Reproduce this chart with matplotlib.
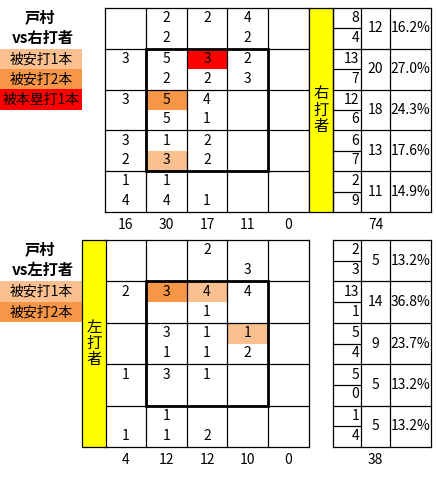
import matplotlib
matplotlib.use("Agg")
import matplotlib.pyplot as plt
from matplotlib.patches import Rectangle

plt.rcParams['font.family'] = ['Noto Sans CJK JP', 'DejaVu Sans']

# ---------------------------------------------------------------
# data : 5x5 grid, each cell has an upper and a lower count
pitcher = "戸村"

r_upper = [[None, 2, 2, 4, None],
           [3, 5, 3, 2, None],
           [3, 5, 4, None, None],
           [3, 1, 2, None, None],
           [1, 1, None, None, None]]
r_lower = [[None, 2, None, 2, None],
           [None, 2, 2, 3, None],
           [None, 5, 1, None, None],
           [2, 3, 2, None, None],
           [4, 4, 1, None, None]]
r_marks = [(1, 2, 0, 3), (2, 1, 0, 2), (3, 1, 1, 1)]   # row, col, half, level
r_side_up = [8, 13, 12, 6, 2]
r_side_low = [4, 7, 6, 7, 9]
r_row_tot = [12, 20, 18, 13, 11]
r_row_pct = ["16.2%", "27.0%", "24.3%", "17.6%", "14.9%"]
r_col_tot = [16, 30, 17, 11, 0]
r_total = 74

l_upper = [[None, None, 2, None, None],
           [2, 3, 4, 4, None],
           [None, 3, 1, 1, None],
           [1, 3, 1, None, None],
           [None, 1, None, None, None]]
l_lower = [[None, None, None, 3, None],
           [None, None, 1, None, None],
           [None, 1, 1, 2, None],
           [None, None, None, None, None],
           [1, 1, 2, None, None]]
l_marks = [(1, 1, 0, 2), (1, 2, 0, 1), (2, 3, 0, 1)]
l_side_up = [2, 13, 5, 5, 1]
l_side_low = [3, 1, 4, 0, 4]
l_row_tot = [5, 14, 9, 5, 5]
l_row_pct = ["13.2%", "36.8%", "23.7%", "13.2%", "13.2%"]
l_col_tot = [4, 12, 12, 10, 0]
l_total = 38

legend_r = ["被安打1本", "被安打2本", "被本塁打1本"]
legend_l = ["被安打1本", "被安打2本"]
colors = {1: "#FAC090", 2: "#F79646", 3: "#FF0000"}

# ---------------------------------------------------------------
fig = plt.figure(figsize=(4.36, 4.78), dpi=100)
ax = fig.add_axes([0, 0, 1, 1])
ax.set_xlim(0, 436)
ax.set_ylim(478, 0)
ax.axis('off')

x0 = 105
cw = 40.8
FS = 10


def panel(y0, rh, upper, lower, marks, side_up, side_low, row_tot, row_pct,
          col_tot, total, vs, legend, bar_x, bar_label, table_left_line):
    # highlighted half cells
    for r, c, h, lev in marks:
        ax.add_patch(Rectangle((x0 + c * cw, y0 + r * rh + h * rh / 2), cw, rh / 2,
                               facecolor=colors[lev], edgecolor='none', zorder=1))
    # grid
    for i in range(6):
        ax.plot([x0 + i * cw, x0 + i * cw], [y0, y0 + 5 * rh], color='black', lw=0.9, zorder=2)
        ax.plot([x0, x0 + 5 * cw], [y0 + i * rh, y0 + i * rh], color='black', lw=0.9, zorder=2)
    # strike zone
    ax.add_patch(Rectangle((x0 + cw, y0 + rh), 3 * cw, 3 * rh, fill=False,
                           edgecolor='black', lw=2.0, zorder=3))
    for r in range(5):
        for c in range(5):
            cx = x0 + c * cw + cw / 2
            if upper[r][c] is not None:
                ax.text(cx, y0 + r * rh + rh * 0.25, str(upper[r][c]), ha='center',
                        va='center', fontsize=FS, zorder=4)
            if lower[r][c] is not None:
                ax.text(cx, y0 + r * rh + rh * 0.73, str(lower[r][c]), ha='center',
                        va='center', fontsize=FS, zorder=4)
    for c in range(5):
        ax.text(x0 + c * cw + cw / 2, y0 + 5 * rh + 13, str(col_tot[c]), ha='center',
                va='center', fontsize=FS)

    # yellow bar
    ax.add_patch(Rectangle((bar_x, y0), 24, 5 * rh, facecolor='#FFFF00',
                           edgecolor='black', lw=0.9, zorder=2))
    ax.text(bar_x + 12, y0 + 2.5 * rh, bar_label, ha='center', va='center',
            fontsize=11, linespacing=0.95, zorder=4)

    # right table
    tx = [333, 361, 390, 431]
    for i, xx in enumerate(tx):
        if i == 0 and not table_left_line:
            continue
        ax.plot([xx, xx], [y0, y0 + 5 * rh], color='black', lw=0.9)
    for r in range(6):
        ax.plot([tx[0], tx[3]], [y0 + r * rh, y0 + r * rh], color='black', lw=0.9)
    for r in range(5):
        ym = y0 + r * rh + rh / 2
        ax.plot([tx[0], tx[1]], [ym, ym], color='black', lw=0.9)
        ax.text(tx[1] - 2, y0 + r * rh + rh * 0.25, str(side_up[r]), ha='right',
                va='center', fontsize=FS)
        ax.text(tx[1] - 2, y0 + r * rh + rh * 0.73, str(side_low[r]), ha='right',
                va='center', fontsize=FS)
        ax.text((tx[1] + tx[2]) / 2, ym, str(row_tot[r]), ha='center', va='center',
                fontsize=FS)
        ax.text((tx[2] + tx[3]) / 2, ym, row_pct[r], ha='center', va='center',
                fontsize=FS)
    ax.text((tx[1] + tx[2]) / 2, y0 + 5 * rh + 13, str(total), ha='center',
            va='center', fontsize=FS)

    # title and legend
    ax.text(40, y0 + 9, pitcher, ha='center', va='center', fontsize=11,
            fontweight='bold')
    ax.text(43, y0 + 30, vs, ha='center', va='center', fontsize=11,
            fontweight='bold')
    for i, lab in enumerate(legend):
        ax.add_patch(Rectangle((0, y0 + rh + i * 20.3), 82, 20.3,
                               facecolor=colors[i + 1], edgecolor='none'))
        ax.text(41, y0 + rh + i * 20.3 + 10.5, lab, ha='center', va='center',
                fontsize=10)


panel(8, 40.8, r_upper, r_lower, r_marks, r_side_up, r_side_low, r_row_tot,
      r_row_pct, r_col_tot, r_total, "vs右打者", legend_r, 309, "右\n打\n者", True)
panel(240, 41.4, l_upper, l_lower, l_marks, l_side_up, l_side_low, l_row_tot,
      l_row_pct, l_col_tot, l_total, "vs左打者", legend_l, 82, "左\n打\n者", True)

fig.savefig("out.png", dpi=100, facecolor='white')
